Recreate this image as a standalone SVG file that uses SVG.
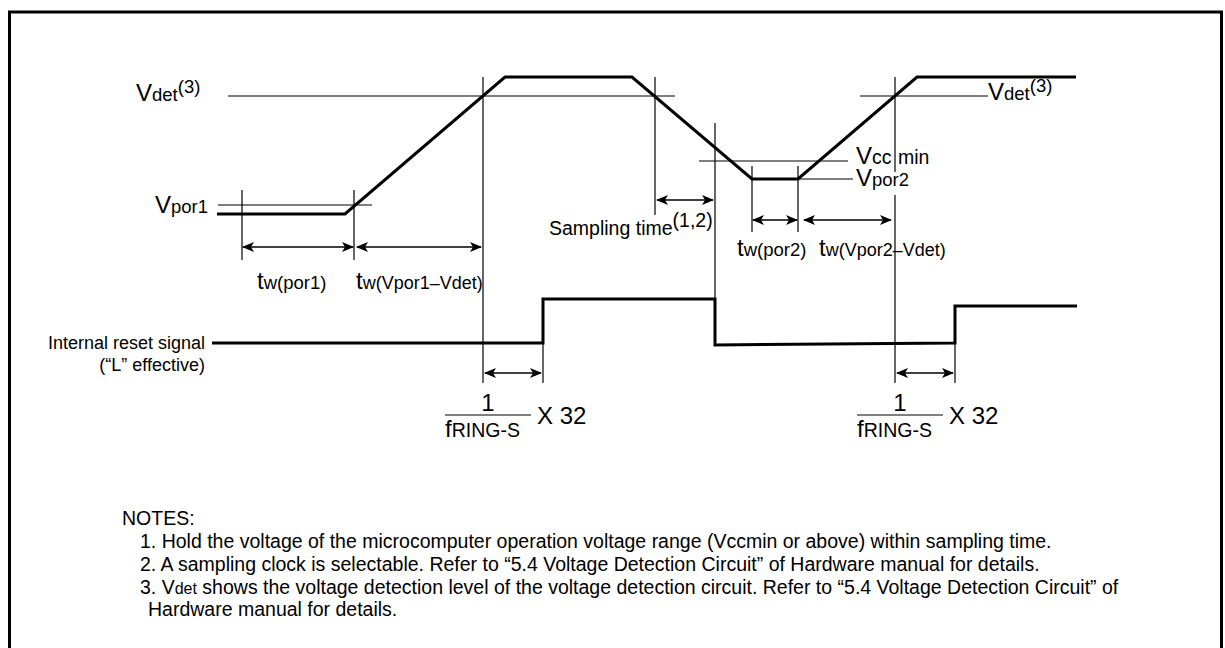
<svg xmlns="http://www.w3.org/2000/svg" width="1225" height="648" viewBox="0 0 1225 648">
<style>
text{font-family:"Liberation Sans",Arial,sans-serif;fill:#000}
.b{font-size:24px}
.s{font-size:18.5px}
.s2{font-size:18px}
.r{font-size:18px}
.st{font-size:19.5px}
.n{font-size:19.5px}
.thin{stroke:#000;stroke-width:1.2;fill:none}
.wave{stroke:#000;stroke-width:3;fill:none;stroke-linejoin:miter}
.arr{stroke:#000;stroke-width:1.5;fill:none;marker-start:url(#ah);marker-end:url(#ah)}
</style>
<defs>
<marker id="ah" viewBox="0 0 12 10" refX="11" refY="5" markerWidth="12" markerHeight="10" markerUnits="userSpaceOnUse" orient="auto-start-reverse">
<path d="M0,0 L12,5 L0,10 L3,5 z" fill="#000"/>
</marker>
</defs>
<rect x="9.5" y="12" width="1212" height="700" fill="#fff" stroke="#000" stroke-width="3"/>

<g id="connectors">
<!-- reference lines -->
<line class="thin" x1="228" y1="96" x2="675" y2="96"/>
<line class="thin" x1="860" y1="96" x2="988" y2="96"/>
<line class="thin" x1="218" y1="205" x2="372" y2="205"/>
<line class="thin" x1="699" y1="161" x2="848" y2="161"/>
<line class="thin" x1="798" y1="179" x2="853" y2="179"/>
<!-- verticals -->
<line class="thin" x1="242" y1="190" x2="242" y2="260"/>
<line class="thin" x1="354" y1="190" x2="354" y2="260"/>
<line class="thin" x1="483" y1="77" x2="483" y2="383"/>
<line class="thin" x1="655" y1="77" x2="655" y2="215"/>
<line class="thin" x1="715" y1="123" x2="715" y2="300"/>
<line class="thin" x1="752" y1="166" x2="752" y2="232"/>
<line class="thin" x1="798" y1="166" x2="798" y2="232"/>
<line class="thin" x1="895" y1="77" x2="895" y2="172"/>
<line class="thin" x1="895" y1="195" x2="895" y2="383"/>
<line class="thin" x1="543" y1="343" x2="543" y2="383"/>
<line class="thin" x1="955" y1="343" x2="955" y2="383"/>
<!-- dimension arrows -->
<line class="arr" x1="243" y1="247" x2="353" y2="247"/>
<line class="arr" x1="357" y1="247" x2="481" y2="247"/>
<line class="arr" x1="657" y1="200" x2="713" y2="200"/>
<line class="arr" x1="753" y1="220" x2="797" y2="220"/>
<line class="arr" x1="804" y1="220" x2="891" y2="220"/>
<line class="arr" x1="485" y1="373" x2="541" y2="373"/>
<line class="arr" x1="897" y1="373" x2="953" y2="373"/>
<!-- waveforms -->
<polyline class="wave" points="217,214 345,214 505,77 632,77 752,179 798,179 917,77 1076,77"/>
<polyline class="wave" points="212,343 543,343 543,299 715,299 715,345 955,343 955,306 1077,306"/>
<!-- fraction bars -->
<line class="thin" x1="445" y1="415" x2="531" y2="415"/>
<line class="thin" x1="857" y1="415" x2="943" y2="415"/>
</g>

<g id="labels">
<text x="136" y="101"><tspan class="b">V</tspan><tspan class="s">det</tspan><tspan class="s" dy="-8">(3)</tspan></text>
<text x="988" y="100"><tspan class="b">V</tspan><tspan class="s">det</tspan><tspan class="s" dy="-8">(3)</tspan></text>
<text x="155" y="213"><tspan class="b">V</tspan><tspan class="s">por1</tspan></text>
<text x="257" y="289"><tspan class="b">t</tspan><tspan class="s">w(por1)</tspan></text>
<text x="356" y="289"><tspan class="b">t</tspan><tspan class="s2">w(Vpor1–Vdet)</tspan></text>
<text x="549" y="235" class="st">Sampling time<tspan dy="-8">(1,2)</tspan></text>
<text x="856" y="164"><tspan class="b">V</tspan><tspan class="st">cc</tspan></text>
<text x="898" y="164" class="st">min</text>
<text x="856" y="186"><tspan class="b">V</tspan><tspan class="s">por2</tspan></text>
<text x="737" y="256"><tspan class="b">t</tspan><tspan class="s">w(por2)</tspan></text>
<text x="819" y="256"><tspan class="b">t</tspan><tspan class="s2">w(Vpor2–Vdet)</tspan></text>
<text x="205" y="349" class="r" text-anchor="end">Internal reset signal</text>
<text x="205" y="371" class="r" text-anchor="end">(“L” effective)</text>
<text x="488" y="411" class="b" text-anchor="middle">1</text>
<text x="445" y="437"><tspan class="b">f</tspan><tspan class="st">RING-S</tspan></text>
<text x="537" y="424" class="b">X 32</text>
<text x="900" y="411" class="b" text-anchor="middle">1</text>
<text x="857" y="437"><tspan class="b">f</tspan><tspan class="st">RING-S</tspan></text>
<text x="949" y="424" class="b">X 32</text>
</g>

<g id="notes">
<text x="122" y="525" class="n">NOTES:</text>
<text x="140" y="548" class="n">1. Hold the voltage of the microcomputer operation voltage range (Vccmin or above) within sampling time.</text>
<text x="140" y="571" class="n">2. A sampling clock is selectable. Refer to “5.4 Voltage Detection Circuit” of Hardware manual for details.</text>
<text x="140" y="594" class="n">3. V<tspan font-size="16px">det</tspan> shows the voltage detection level of the voltage detection circuit. Refer to “5.4 Voltage Detection Circuit” of</text>
<text x="148" y="616" class="n">Hardware manual for details.</text>
</g>
</svg>
